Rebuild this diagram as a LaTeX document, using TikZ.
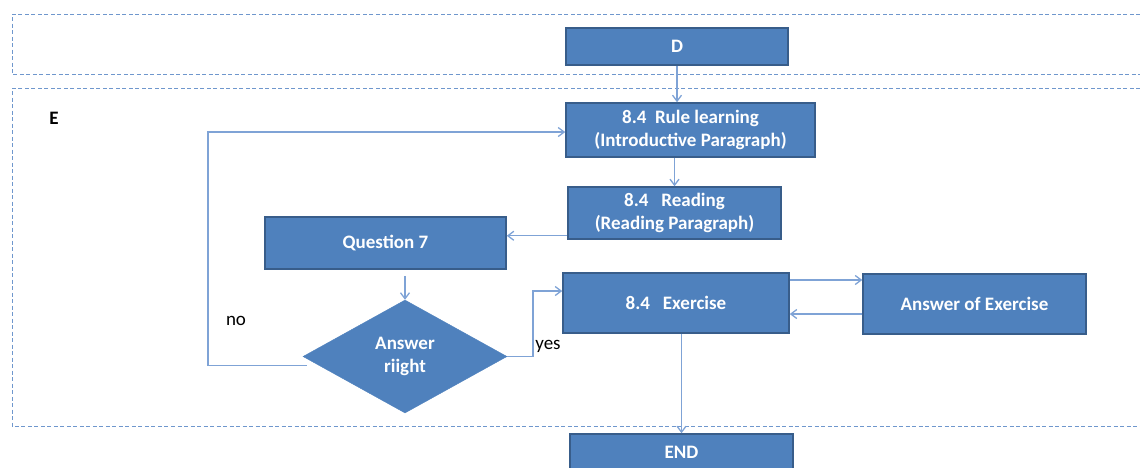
\documentclass[tikz,border=0pt]{standalone}
\usepackage{fontspec}
\setmainfont{Carlito}
\usetikzlibrary{shapes.geometric,arrows.meta,calc}
\definecolor{boxfill}{HTML}{4F81BD}
\definecolor{boxedge}{HTML}{385D8A}
\definecolor{linkblue}{HTML}{7FA3D6}
\definecolor{laneblue}{HTML}{6F97CD}
\tikzset{
  stepbox/.style={draw=boxedge, line width=1.5pt, fill=boxfill, text=white,
    font=\bfseries\fontsize{19}{23}\selectfont, align=center, inner sep=0pt},
  decision/.style={diamond, aspect=1.8, fill=boxfill, draw=boxfill, text=white,
    font=\bfseries\fontsize{19}{23}\selectfont, align=center, inner sep=0pt},
  conn/.style={draw=linkblue, line width=1.3pt, -{Straight Barb[length=6pt,width=9pt]}},
  lane/.style={draw=laneblue, line width=1pt, dash pattern=on 4pt off 2.5pt},
  tag/.style={font=\fontsize{19}{22}\selectfont, text=black}
}
\begin{document}
\begin{tikzpicture}[x=1pt,y=-1pt]
\useasboundingbox (0,0) rectangle (1140,467);
% swim lanes
\draw[lane] (1140,14) -- (12,14) -- (12,74) -- (1140,74);
\draw[lane] (1140,88) -- (12,88) -- (12,426) -- (1140,426);
\node[font=\bfseries\fontsize{19}{22}\selectfont] (laneE) at (54,118) {E};
% process steps
\node[stepbox, minimum width=222pt, minimum height=37pt] (D) at (677,46.5) {D};
\node[stepbox, minimum width=249pt, minimum height=54pt] (rule) at (690.5,130) {8.4\ \ Rule learning\\(Introductive Paragraph)};
\node[stepbox, minimum width=213pt, minimum height=52pt] (read) at (674.5,213) {8.4\ \ \ Reading\\(Reading Paragraph)};
\node[stepbox, minimum width=241pt, minimum height=52pt] (q7) at (385.5,243) {Question 7};
\node[decision, minimum width=204pt, minimum height=113pt] (dia) at (405,356.5) {Answer\\riight};
\node[stepbox, minimum width=226pt, minimum height=60pt] (ex) at (676,303) {8.4\ \ \ Exercise};
\node[stepbox, minimum width=223pt, minimum height=60pt] (ans) at (974.5,304) {Answer of Exercise};
\node[stepbox, minimum width=223pt, minimum height=36pt] (end) at (681.5,452) {END};
% connectors
\draw[conn] (D.south) -- (D.south |- rule.north);
\draw[conn] (rule.south -| read.north) -- (read.north);
\coordinate (rq) at ($(read.south west)+(0,-4)$);
\draw[conn] (rq) -- (q7.east |- rq);
\draw[conn] ([yshift=-6pt]dia.north |- q7.south) -- (dia.north);
\coordinate (nostart) at ($(dia.west)+(4,9)$);
\coordinate (nocorner) at (208,132);
\draw[conn] (nostart) -| (nocorner) -- (rule.west |- nocorner);
\node[tag] (no) at (236,321) {no};
\coordinate (yescorner) at (533,291);
\draw[conn] (dia.east) -| (yescorner) -- (ex.west |- yescorner);
\node[tag] (yes) at (548,346) {yes};
\coordinate (ea) at ($(ex.east)+(0,-23)$);
\draw[conn] (ea) -- (ans.west |- ea);
\coordinate (ae) at ($(ans.west)+(0,10)$);
\draw[conn] (ae) -- (ex.east |- ae);
\draw[conn] (end.north |- ex.south) -- (end.north);
\end{tikzpicture}
\end{document}
